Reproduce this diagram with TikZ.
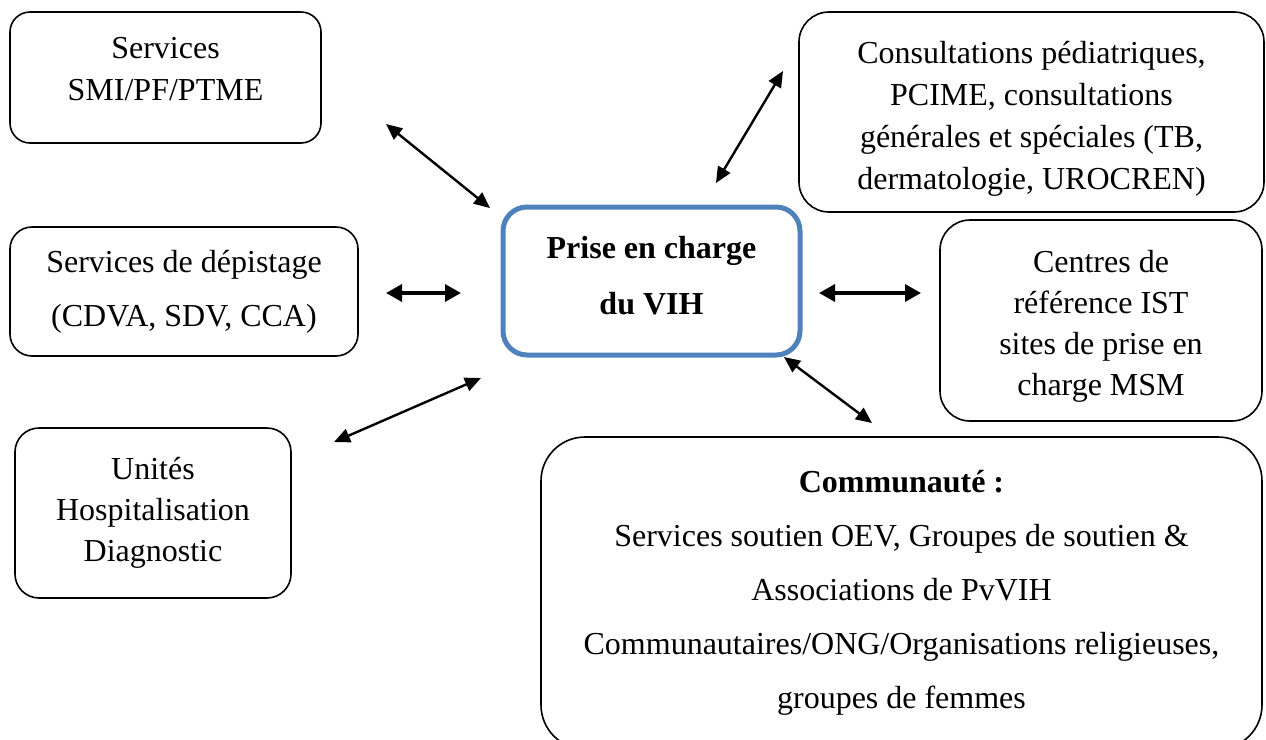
\documentclass[tikz,border=0pt]{standalone}
\usepackage{fontspec}
\setmainfont{Liberation Serif}
\usepackage{tikz}
\usetikzlibrary{arrows.meta}

\definecolor{vihblue}{HTML}{4F81BD}

\begin{document}
\begin{tikzpicture}[
  x=0.5pt, y=-0.5pt,
  box/.style={draw=black, line width=0.8pt, align=center, inner sep=0pt, font=\fontsize{16}{21}\selectfont},
  hub/.style={draw=vihblue, line width=2.5pt, rounded corners=12pt, align=center, inner sep=0pt, font=\fontsize{16}{28}\selectfont\bfseries},
  arr/.style={{Triangle[length=8pt,width=7pt]}-{Triangle[length=8pt,width=7pt]}, line width=1.2pt},
  harr/.style={{Triangle[length=8pt,width=8.5pt]}-{Triangle[length=8pt,width=8.5pt]}, line width=1.7pt}
]
\useasboundingbox (0,0) rectangle (1266,740);
\clip (0,0) rectangle (1266,740);

% boxes
\node[hub, minimum width=148.5pt, minimum height=74pt] (vih) at (651.5,281) {Prise en charge\\du VIH\rule[-6pt]{0pt}{0pt}};
\node[box, rounded corners=10pt, minimum width=155.5pt, minimum height=65.5pt] (smi) at (165.5,77.5) {Services\\SMI/PF/PTME\rule[-8.5pt]{0pt}{0pt}};
\node[box, rounded corners=11pt, minimum width=174pt, minimum height=64.5pt, font=\fontsize{16}{27}\selectfont] (depist) at (184,291.5) {Services de dépistage\\(CDVA, SDV, CCA)};
\node[box, rounded corners=12pt, minimum width=138pt, minimum height=85pt, font=\fontsize{16}{20.5}\selectfont] (unites) at (153,513) {Unités\\Hospitalisation\\Diagnostic};
\node[box, rounded corners=15pt, minimum width=232.5pt, minimum height=100pt] (consult) at (1031.5,112) {\rule{0pt}{17.5pt}Consultations pédiatriques,\\PCIME, consultations\\générales et spéciales (TB,\\dermatologie, UROCREN)};
\node[box, rounded corners=15pt, minimum width=161pt, minimum height=100.5pt, font=\fontsize{16}{20.5}\selectfont] (ist) at (1101,320.5) {\rule{0pt}{17pt}Centres de\\référence IST\\sites de prise en\\charge MSM};
\node[box, rounded corners=22pt, minimum width=360.5pt, minimum height=156pt, font=\fontsize{16}{27}\selectfont] (commu) at (901.5,593) {\textbf{Communauté :}\\Services soutien OEV, Groupes de soutien \&\\Associations de PvVIH\\Communautaires/ONG/Organisations religieuses,\\groupes de femmes};

% arrow ends
\coordinate (a1) at (386,124);  \coordinate (b1) at (490,208);
\coordinate (a2) at (386,293);  \coordinate (b2) at (461,293);
\coordinate (a3) at (334,442);  \coordinate (b3) at (481,378);
\coordinate (a4) at (716,183);  \coordinate (b4) at (783,71);
\coordinate (a5) at (819,293);  \coordinate (b5) at (921,293);
\coordinate (a6) at (784,357);  \coordinate (b6) at (872,423);

\draw[arr] (a1) -- (b1);
\draw[harr] (a2) -- (b2);
\draw[arr] (a3) -- (b3);
\draw[arr] (a4) -- (b4);
\draw[harr] (a5) -- (b5);
\draw[arr] (a6) -- (b6);
\end{tikzpicture}
\end{document}
